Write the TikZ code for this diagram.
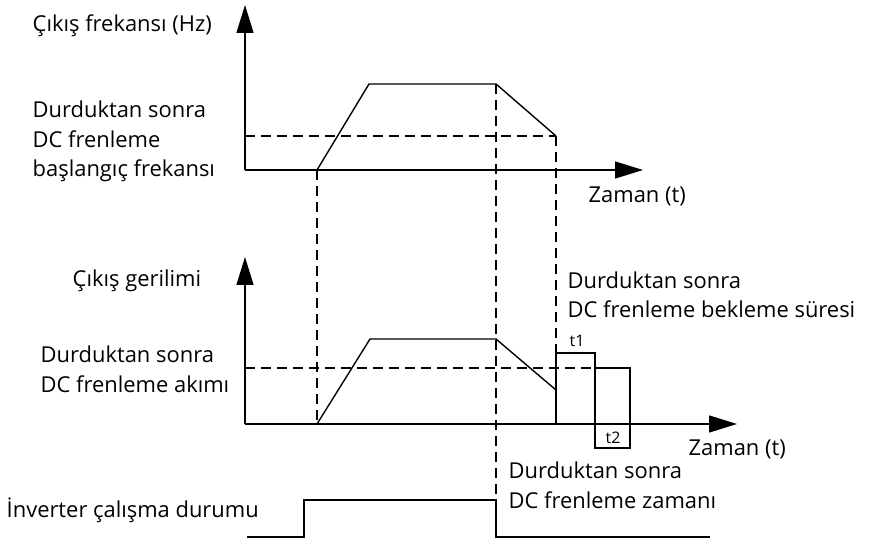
\documentclass[tikz,border=0pt]{standalone}
\usepackage{fontspec}
\setmainfont{Open Sans}
\usetikzlibrary{arrows.meta}

\begin{document}
\begin{tikzpicture}[x=1bp, y=-1bp, line width=1.4bp,
    lbl/.style={anchor=base west, inner sep=0pt, align=left, font=\fontsize{22}{30}\selectfont},
    axisline/.style={-{Triangle[length=28bp,width=17bp]}},
    guide/.style={dash pattern=on 10bp off 6bp},
    boxlbl/.style={anchor=base, inner sep=0pt, font=\fontsize{16}{18}\selectfont}]
    \useasboundingbox (0,0) rectangle (874,542);
    % output frequency
    \coordinate (fo) at (245,170);
    \coordinate (fy) at (245,5);
    \coordinate (fx) at (643,170);
    \coordinate (fa) at (317,170);
    \coordinate (fb) at (369,84);
    \coordinate (fc) at (496,84);
    \coordinate (fd) at (556,136);
    \coordinate (fs) at (245,136);
    \draw[axisline] (fo) -- (fy);
    \draw[axisline] (fo) -- (fx);
    \draw (fa) -- (fb) -- (fc) -- (fd);
    \draw[guide] (fs) -- (fd);
    % output voltage
    \coordinate (vo) at (245,424);
    \coordinate (vy) at (245,257);
    \coordinate (vx) at (737,424);
    \coordinate (va) at (317,424);
    \coordinate (vb) at (370,339);
    \coordinate (vc) at (496,339);
    \coordinate (vd) at (556,390);
    \coordinate (ve) at (556,424);
    \coordinate (vf) at (556,353);
    \coordinate (vg) at (595,353);
    \coordinate (vh) at (595,448);
    \coordinate (vi) at (630,448);
    \coordinate (vj) at (630,368);
    \coordinate (vk) at (595,368);
    \coordinate (vs) at (245,368);
    \draw[axisline] (vo) -- (vy);
    \draw[axisline] (vo) -- (vx);
    \draw (va) -- (vb) -- (vc) -- (vd);
    \draw (ve) -- (vf) -- (vg) -- (vh) -- (vi) -- (vj) -- (vk);
    \draw[guide] (vs) -- (vk);
    % inverter state
    \coordinate (ra) at (247,537);
    \coordinate (rb) at (304,537);
    \coordinate (rc) at (304,500);
    \coordinate (rd) at (496,500);
    \coordinate (re) at (496,537);
    \coordinate (rf) at (710,537);
    \draw (ra) -- (rb) -- (rc) -- (rd) -- (re) -- (rf);
    % guides
    \draw[guide] (fa) -- (va);
    \draw[guide] (fc) -- (rd);
    \draw[guide] (fd) -- (vf);
    % labels
    \node[lbl] (ftitle) at (32,32) {Çıkış frekansı (Hz)};
    \node[lbl] (fstart) at (32,177) {Durduktan sonra\\DC frenleme\\başlangıç frekansı};
    \node[lbl] (ftime) at (588,203) {Zaman (t)};
    \node[lbl] (vtitle) at (72,287) {Çıkış gerilimi};
    \node[lbl] (vcur) at (40,392) {Durduktan sonra\\DC frenleme akımı};
    \node[lbl] (vwait) at (567,318) {Durduktan sonra\\DC frenleme bekleme süresi};
    \node[lbl] (vtime) at (688,455) {Zaman (t)};
    \node[boxlbl] (tone) at (577,347) {t1};
    \node[boxlbl] (ttwo) at (613,443) {t2};
    \node[lbl] (rbrake) at (508,508) {Durduktan sonra\\DC frenleme zamanı};
    \node[lbl] (rtitle) at (6,517) {İnverter çalışma durumu};
\end{tikzpicture}
\end{document}
